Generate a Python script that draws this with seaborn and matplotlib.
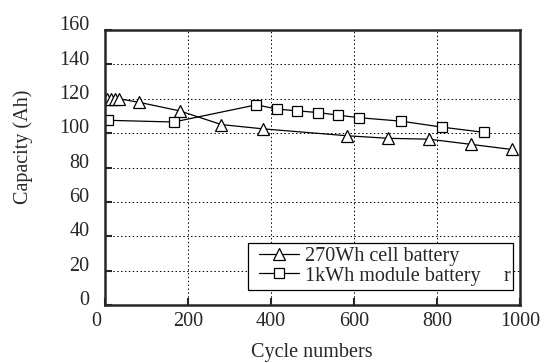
import pandas as pd
import matplotlib
matplotlib.use("Agg")
import matplotlib.pyplot as plt
import matplotlib.patches as mpatches
import matplotlib.transforms as mtransforms
import seaborn as sns

# Data
cell_cycles = [5, 15, 25, 35, 82, 180, 281, 382, 584, 683, 781, 882, 981]
cell_capacity = [120, 120, 120, 120, 118, 113, 105, 102.5, 98.5, 97, 96.5, 93.5, 90.5]
module_cycles = [7, 166, 365, 416, 464, 514, 562, 613, 714, 813, 913]
module_capacity = [107.5, 106.5, 116.5, 114, 113, 112, 110.5, 109, 107, 103.5, 100.5]

cell_label = "270Wh cell battery"
module_label = "1kWh module battery"

x_ticks = [0, 200, 400, 600, 800, 1000]
y_ticks = [0, 20, 40, 60, 80, 100, 120, 140, 160]

sns.set_style("ticks")
plt.rcParams["font.family"] = ["Liberation Serif", "DejaVu Serif"]
fs = 14.5

df = pd.concat([
    pd.DataFrame({"cycle": cell_cycles, "capacity": cell_capacity, "series": cell_label}),
    pd.DataFrame({"cycle": module_cycles, "capacity": module_capacity, "series": module_label}),
], ignore_index=True)

fig = plt.figure(figsize=(5.46, 3.63), dpi=100)
ax = fig.add_axes([0.192, 0.160, 0.760, 0.757])

sns.lineplot(data=df, x="cycle", y="capacity", hue="series", style="series",
             markers={cell_label: "^", module_label: "s"}, dashes=False,
             palette={cell_label: "black", module_label: "black"},
             markerfacecolor="white", markeredgecolor="black", markeredgewidth=0.9,
             linewidth=0.9, sort=False, ax=ax)
for line in ax.lines:
    line.set_markersize(8.5 if line.get_marker() == "^" else 7)

ax.set_xlim(0, 1000)
ax.set_ylim(0, 160)
ax.set_xticks(x_ticks)
ax.set_yticks(y_ticks)
ax.set_xlabel("Cycle numbers", fontsize=fs, labelpad=9)
ax.set_ylabel("Capacity (Ah)", fontsize=fs)
ax.yaxis.set_label_coords(-0.172, 0.575)
ax.grid(True, linestyle=(0, (1.5, 2.5)), color="black", linewidth=0.7)
ax.tick_params(direction="in", length=5, width=1.5, labelsize=fs)
ax.tick_params(axis="y", pad=11)
ax.tick_params(axis="x", pad=5)
for spine in ax.spines.values():
    spine.set_linewidth(1.8)
    spine.set_visible(True)

# tick labels in the source sit slightly above their ticks
offset = mtransforms.ScaledTranslation(0, 5 / 72, fig.dpi_scale_trans)
for lbl in ax.get_yticklabels():
    lbl.set_transform(lbl.get_transform() + offset)
first = ax.get_xticklabels()[0]
first.set_transform(first.get_transform() + mtransforms.ScaledTranslation(-6 / 72, 0, fig.dpi_scale_trans))

leg = ax.legend(loc="center left", bbox_to_anchor=(0.372, 0.14), frameon=False,
                fontsize=fs, handlelength=2.0, handletextpad=0.25, borderpad=0.0,
                labelspacing=0.0, borderaxespad=0)
for h in leg.legend_handles:
    h.set_markerfacecolor("white")
    h.set_markeredgecolor("black")

# legend frame, wider than its entries as in the source
ax.add_patch(mpatches.Rectangle((0.344, 0.055), 0.639, 0.170, transform=ax.transAxes,
                                facecolor="white", edgecolor="black", linewidth=0.9, zorder=4))
leg.set_zorder(5)

ax.text(0.978, 0.105, "r", transform=ax.transAxes, ha="right", va="center",
        fontsize=fs, zorder=6)

fig.savefig("out.png", dpi=100)
